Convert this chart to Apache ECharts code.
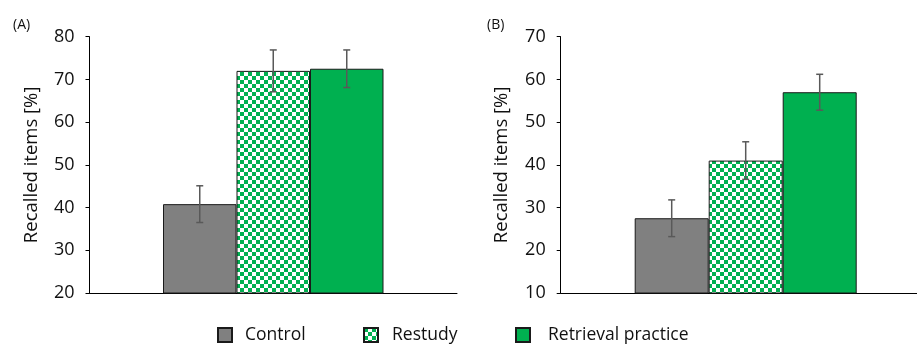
<!DOCTYPE html>
<html>
<head>
<meta charset="utf-8">
<script src="https://cdn.jsdelivr.net/npm/echarts@6/dist/echarts.min.js"></script>
<style>
  html, body { margin: 0; padding: 0; background: #fff; }
  #chart { width: 917px; height: 347px; }
</style>
</head>
<body>
<div id="chart"></div>
<script>
// Conditions shown in both panels
const conditions = ['Control', 'Restudy', 'Retrieval practice'];

// Panel (A): mean recall and error bar half-length per condition
const meansA = [40.8, 72.0, 72.5];
const errorsA = [4.3, 4.9, 4.4];

// Panel (B)
const meansB = [27.5, 41.0, 57.0];
const errorsB = [4.3, 4.4, 4.2];

// Axis ranges / tick labels
const ticksA = [20, 30, 40, 50, 60, 70, 80];
const ticksB = [10, 20, 30, 40, 50, 60, 70];

const FONT = 'Open Sans';
const GREEN = '#00b050';
const GREY = '#808080';

// Green/white checkerboard fill for the Restudy bars
function checkerboard(cell) {
  const c = document.createElement('canvas');
  c.width = c.height = cell * 2;
  const ctx = c.getContext('2d');
  ctx.fillStyle = '#ffffff';
  ctx.fillRect(0, 0, cell * 2, cell * 2);
  ctx.fillStyle = GREEN;
  ctx.fillRect(0, 0, cell, cell);
  ctx.fillRect(cell, cell, cell, cell);
  return c;
}
const checker = { image: checkerboard(4), repeat: 'repeat' };
const fills = [GREY, checker, GREEN];

const chart = echarts.init(document.getElementById('chart'));

function yAxisFor(ticks, gridIndex, nameGap) {
  return {
    type: 'value', gridIndex,
    min: ticks[0], max: ticks[ticks.length - 1], interval: 10,
    name: 'Recalled items [%]', nameLocation: 'middle', nameGap,
    nameTextStyle: { fontFamily: FONT, fontSize: 18.5, color: '#111' },
    axisLine: { show: true, lineStyle: { color: '#000', width: 1 } },
    axisTick: { show: true, length: 4, lineStyle: { color: '#000' } },
    axisLabel: { margin: 15, fontFamily: FONT, fontSize: 18, color: '#111' },
    splitLine: { show: false }
  };
}

function xAxisFor(gridIndex) {
  return {
    type: 'category', gridIndex, data: [''],
    axisLine: { show: true, lineStyle: { color: '#000', width: 1 } },
    axisTick: { show: false }, axisLabel: { show: false }
  };
}

function barSeries(means, axisIndex) {
  return conditions.map((name, i) => ({
    name, type: 'bar',
    xAxisIndex: axisIndex, yAxisIndex: axisIndex,
    barWidth: '20%', barGap: '0%',
    itemStyle: { color: fills[i], borderColor: '#1a1a1a', borderWidth: 1 },
    emphasis: { disabled: true },
    data: [means[i]]
  }));
}

function errorSeries(means, errors, axisIndex) {
  return {
    type: 'custom',
    xAxisIndex: axisIndex, yAxisIndex: axisIndex,
    z: 10, silent: true,
    data: means.map((m, i) => [0, m, errors[i], i]),
    renderItem(params, api) {
      const mean = api.value(1), err = api.value(2), slot = api.value(3);
      const band = api.size([1, 0])[0];
      const x = api.coord([0, mean])[0] + (slot - 1) * band * 0.2;
      const yTop = api.coord([0, mean + err])[1];
      const yBot = api.coord([0, mean - err])[1];
      const cap = 3.5;
      const style = { stroke: '#595959', lineWidth: 1.5 };
      return {
        type: 'group',
        children: [
          { type: 'line', shape: { x1: x, y1: yTop, x2: x, y2: yBot }, style },
          { type: 'line', shape: { x1: x - cap, y1: yTop, x2: x + cap, y2: yTop }, style },
          { type: 'line', shape: { x1: x - cap, y1: yBot, x2: x + cap, y2: yBot }, style }
        ]
      };
    }
  };
}

function legendItem(name, left, gap) {
  return {
    data: [name], left, top: 326, padding: 0,
    icon: 'rect', itemWidth: 14, itemHeight: 14, itemGap: 0,
    selectedMode: false,
    textStyle: { fontFamily: FONT, fontSize: 17.5, color: '#111', padding: [0, 0, 0, gap] }
  };
}

chart.setOption({
  animation: false,
  grid: [
    { left: 89.5, top: 36.7, width: 367.5, bottom: 54, outerBoundsMode: 'none' },
    // right panel's plot area runs past the canvas edge, so the bars sit left of the visible centre
    { left: 560.7, top: 36.7, width: 370, bottom: 54, outerBoundsMode: 'none' }
  ],
  xAxis: [xAxisFor(0), xAxisFor(1)],
  yAxis: [yAxisFor(ticksA, 0, 48), yAxisFor(ticksB, 1, 49)],
  legend: [
    legendItem('Control', 217, 8),
    legendItem('Restudy', 363, 9),
    legendItem('Retrieval practice', 515, 13)
  ],
  graphic: [
    { type: 'text', left: 13, top: 18, style: { text: '(A)', font: '14px "Open Sans"', fill: '#111' } },
    { type: 'text', left: 487, top: 18, style: { text: '(B)', font: '14px "Open Sans"', fill: '#111' } }
  ],
  series: [
    ...barSeries(meansA, 0),
    ...barSeries(meansB, 1),
    errorSeries(meansA, errorsA, 0),
    errorSeries(meansB, errorsB, 1)
  ]
});
</script>
</body>
</html>
